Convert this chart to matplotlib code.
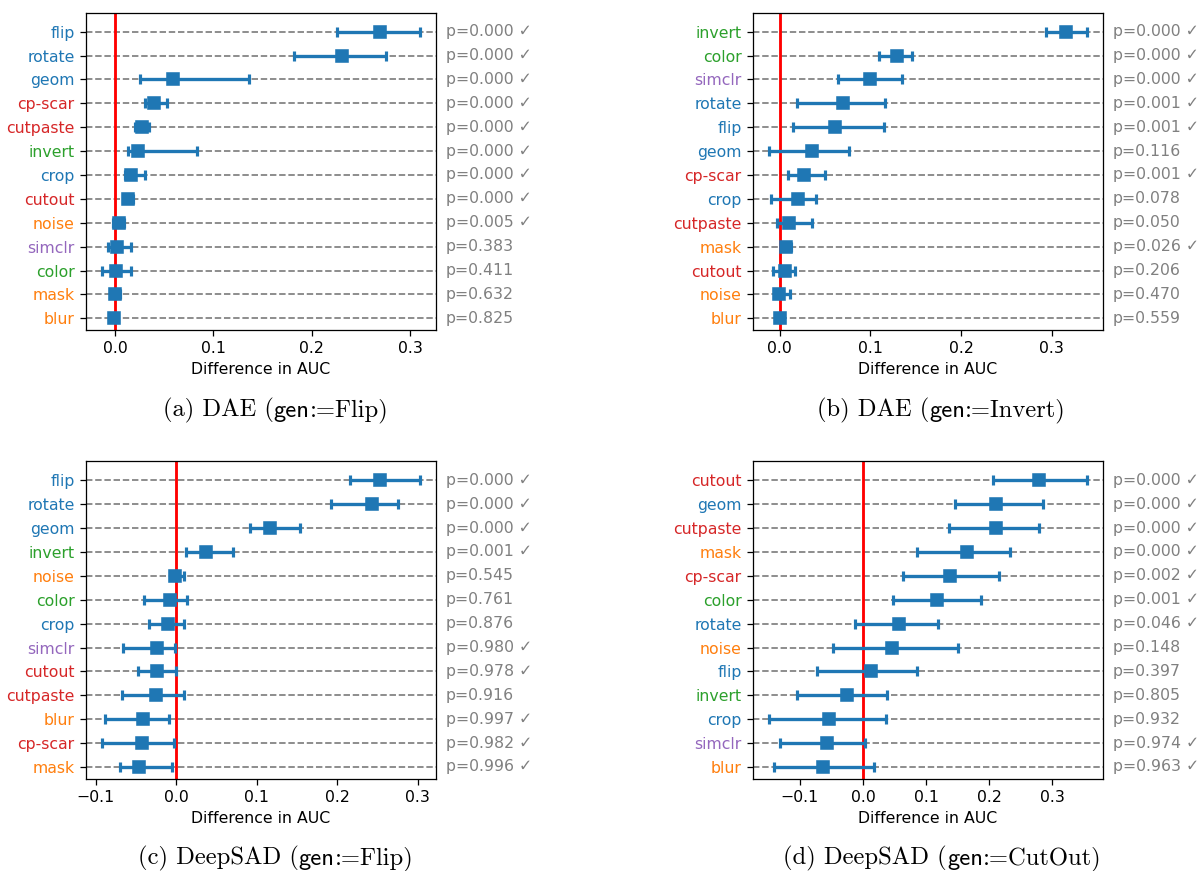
import numpy as np
import matplotlib
matplotlib.use("Agg")
import matplotlib.pyplot as plt

# ---------------- data ----------------
a_labels = ["flip", "rotate", "geom", "cp-scar", "cutpaste", "invert", "crop",
            "cutout", "noise", "simclr", "color", "mask", "blur"]
a_mean = [0.270, 0.2305, 0.059, 0.0397, 0.027, 0.023, 0.0156, 0.0129, 0.0037, 0.0017, 0.001, 0.0, -0.0014]
a_low = [0.226, 0.182, 0.0254, 0.030, 0.020, 0.0125, 0.0098, 0.008, -0.002, -0.0075, -0.0139, -0.005, -0.006]
a_high = [0.310, 0.276, 0.136, 0.053, 0.034, 0.0837, 0.0305, 0.018, 0.009, 0.0156, 0.0156, 0.005, 0.003]
a_p = ["0.000", "0.000", "0.000", "0.000", "0.000", "0.000", "0.000", "0.000", "0.005",
       "0.383", "0.411", "0.632", "0.825"]
a_sig = [1, 1, 1, 1, 1, 1, 1, 1, 1, 0, 0, 0, 0]

b_labels = ["invert", "color", "simclr", "rotate", "flip", "geom", "cp-scar", "crop",
            "cutpaste", "mask", "cutout", "noise", "blur"]
b_mean = [0.3154, 0.1293, 0.100, 0.070, 0.0615, 0.0355, 0.0271, 0.0198, 0.0099, 0.0073, 0.0062, -0.0004, 0.0]
b_low = [0.294, 0.110, 0.0648, 0.0194, 0.015, -0.0121, 0.0092, -0.0095, -0.0033, 0.002, -0.0073, -0.006, -0.005]
b_high = [0.3385, 0.146, 0.1348, 0.1165, 0.1147, 0.0766, 0.0498, 0.0399, 0.0359, 0.013, 0.0172, 0.0117, 0.005]
b_p = ["0.000", "0.000", "0.000", "0.001", "0.001", "0.116", "0.001", "0.078", "0.050",
       "0.026", "0.206", "0.470", "0.559"]
b_sig = [1, 1, 1, 1, 1, 0, 1, 0, 0, 1, 0, 0, 0]

c_labels = ["flip", "rotate", "geom", "invert", "noise", "color", "crop", "simclr",
            "cutout", "cutpaste", "blur", "cp-scar", "mask"]
c_mean = [0.2529, 0.2434, 0.1169, 0.0369, -0.002, -0.0083, -0.0108, -0.0236, -0.0245, -0.0249, -0.0419, -0.0427, -0.0464]
c_low = [0.2164, 0.1928, 0.0912, 0.012, -0.008, -0.0402, -0.0336, -0.0659, -0.0481, -0.068, -0.0883, -0.0929, -0.0705]
c_high = [0.3027, 0.2757, 0.1542, 0.0705, 0.010, 0.0129, 0.010, -0.0017, -0.0004, 0.010, -0.0095, -0.0033, -0.0054]
c_p = ["0.000", "0.000", "0.000", "0.001", "0.545", "0.761", "0.876", "0.980", "0.978",
       "0.916", "0.997", "0.982", "0.996"]
c_sig = [1, 1, 1, 1, 0, 0, 0, 1, 1, 0, 1, 1, 1]

d_labels = ["cutout", "geom", "cutpaste", "mask", "cp-scar", "color", "rotate", "noise",
            "flip", "invert", "crop", "simclr", "blur"]
d_mean = [0.2794, 0.2111, 0.2106, 0.1646, 0.137, 0.1175, 0.0571, 0.046, 0.0127, -0.0254, -0.0534, -0.0577, -0.064]
d_low = [0.2063, 0.145, 0.1365, 0.0852, 0.0635, 0.0471, -0.0127, -0.0476, -0.0725, -0.1048, -0.1497, -0.1312, -0.1407]
d_high = [0.3545, 0.2857, 0.2794, 0.2333, 0.2159, 0.1868, 0.119, 0.1497, 0.0852, 0.0376, 0.036, 0.0037, 0.0169]
d_p = ["0.000", "0.000", "0.000", "0.000", "0.002", "0.001", "0.046", "0.148", "0.397",
       "0.805", "0.932", "0.974", "0.963"]
d_sig = [1, 1, 1, 1, 1, 1, 1, 0, 0, 0, 0, 1, 1]

captions = [
    ("(a) DAE (", ":=Flip)"),
    ("(b) DAE (", ":=Invert)"),
    ("(c) DeepSAD (", ":=Flip)"),
    ("(d) DeepSAD (", ":=CutOut)"),
]

label_colors = {
    "flip": "tab:blue", "rotate": "tab:blue", "geom": "tab:blue", "crop": "tab:blue",
    "cp-scar": "tab:red", "cutpaste": "tab:red", "cutout": "tab:red",
    "invert": "tab:green", "color": "tab:green",
    "noise": "tab:orange", "mask": "tab:orange", "blur": "tab:orange",
    "simclr": "tab:purple",
}

# ---------------- figure ----------------
DPI = 113.6
W, H = 1199, 871
fig = plt.figure(figsize=(W / DPI, H / DPI), dpi=DPI)

ax_w, ax_h = 350 / W, 317.5 / H
positions = [
    (85.7 / W, 1 - 330.0 / H),
    (752.7 / W, 1 - 330.0 / H),
    (85.7 / W, 1 - 778.7 / H),
    (752.7 / W, 1 - 778.7 / H),
]
caption_pos = [(275.5, 416.5), (941.5, 416.5), (275.5, 864.5), (942.5, 864.5)]

panels = [
    (a_labels, a_mean, a_low, a_high, a_p, a_sig),
    (b_labels, b_mean, b_low, b_high, b_p, b_sig),
    (c_labels, c_mean, c_low, c_high, c_p, c_sig),
    (d_labels, d_mean, d_low, d_high, d_p, d_sig),
]

for (labels, mean, low, high, pv, sig), (l, b) in zip(panels, positions):
    ax = fig.add_axes([l, b, ax_w, ax_h])
    n = len(labels)
    y = np.arange(n)[::-1]
    mean = np.array(mean)
    low = np.array(low)
    high = np.array(high)
    ax.grid(axis="y", ls="--", color="gray", lw=1.1)
    ax.axvline(0, color="red", lw=1.8, zorder=2)
    ax.errorbar(mean, y, xerr=[mean - low, high - mean], fmt="s", color="#1f77b4",
                ms=7.3, elinewidth=2.1, capsize=3.4, capthick=2, zorder=3)
    ax.set_yticks(y)
    ax.set_yticklabels(labels)
    for tl, lab in zip(ax.get_yticklabels(), labels):
        tl.set_color(label_colors[lab])
    ax.set_ylim(-0.49, n - 1 + 0.8)
    ax.set_xlabel("Difference in AUC")
    for yi, p, s in zip(y, pv, sig):
        ax.annotate("p=" + p + (" \u2713" if s else ""), xy=(1, yi),
                    xycoords=("axes fraction", "data"), xytext=(6.3, 0),
                    textcoords="offset points", va="center", ha="left",
                    color="gray", fontsize=10)

# captions with Computer Modern fonts
fig.canvas.draw()
renderer = fig.canvas.get_renderer()
for (pre, post), (xc, yb) in zip(captions, caption_pos):
    parts = [(pre, "cmr10"), ("gen", "cmss10"), (post, "cmr10")]
    texts = []
    for s, fam in parts:
        t = fig.text(0, 1 - yb / H, s, fontsize=15.6, family=fam, va="baseline", ha="left")
        texts.append(t)
    widths = [t.get_window_extent(renderer).width for t in texts]
    x = xc - sum(widths) / 2
    for t, w in zip(texts, widths):
        t.set_x(x / W)
        x += w

fig.savefig("out.png", dpi=DPI)
